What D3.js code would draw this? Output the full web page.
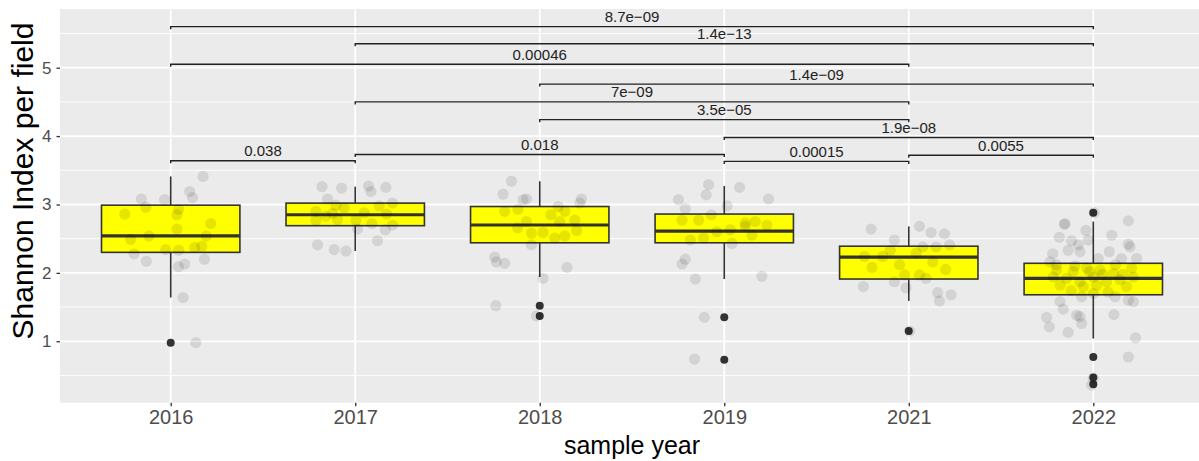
<!DOCTYPE html>
<html>
<head>
<meta charset="utf-8">
<script src="https://cdn.jsdelivr.net/npm/d3@7"></script>
<style>
  html, body { margin: 0; padding: 0; background: #ffffff; }
  svg { display: block; font-family: "Liberation Sans", Arial, Helvetica, sans-serif; }
</style>
</head>
<body>
<svg id="chart" width="1199" height="461"></svg>
<script>
// ---- data ----
const years = ["2016", "2017", "2018", "2019", "2021", "2022"];

// box statistics per year
const whiskerLow  = [1.64, 2.32, 1.94, 1.91, 1.59, 1.04];
const q1          = [2.30, 2.69, 2.44, 2.44, 1.91, 1.68];
const median      = [2.54, 2.85, 2.70, 2.61, 2.23, 1.92];
const q3          = [2.99, 3.02, 2.97, 2.86, 2.39, 2.14];
const whiskerHigh = [3.41, 3.26, 3.34, 3.27, 2.68, 2.75];
const outliers = [
  [0.98],
  [],
  [1.52, 1.37],
  [1.35, 0.73],
  [1.15],
  [2.88, 0.77, 0.47, 0.37]
];

// individual samples: [jitter (fraction of category step), Shannon index]
const points2016 = [
  [0.175, 3.41], [0.103, 3.19], [0.118, 3.10], [-0.159, 3.08], [-0.135, 2.96],
  [-0.033, 3.07], [0.043, 2.93], [-0.249, 2.86], [0.034, 2.85], [0.217, 2.72],
  [0.034, 2.64], [-0.118, 2.54], [-0.217, 2.49], [0.193, 2.54], [-0.027, 2.34],
  [0.043, 2.33], [0.130, 2.37], [0.168, 2.39], [-0.199, 2.28], [-0.132, 2.17],
  [0.076, 2.13], [0.042, 2.09], [0.183, 2.20], [0.067, 1.64], [0.136, 0.98]
];
const points2017 = [
  [-0.180, 3.26], [-0.074, 3.24], [0.072, 3.27], [0.166, 3.25], [0.085, 3.19],
  [-0.150, 3.08], [-0.105, 2.99], [0.130, 2.98], [0.202, 3.02], [-0.213, 2.90],
  [-0.123, 2.87], [0.049, 2.88], [-0.213, 2.77], [-0.096, 2.78], [0.004, 2.77],
  [0.012, 2.64], [0.163, 2.63], [0.202, 2.70], [-0.204, 2.41], [-0.114, 2.34],
  [-0.050, 2.32], [0.121, 2.47], [-0.160, 2.83], [0.170, 2.86], [0.090, 2.72],
  [-0.060, 2.95]
];
const points2018 = [
  [-0.153, 3.34], [-0.199, 3.15], [-0.090, 3.07], [-0.072, 3.08], [0.226, 3.08],
  [0.217, 3.02], [-0.118, 2.93], [-0.190, 2.90], [0.108, 2.75], [0.190, 2.77],
  [0.136, 2.90], [-0.072, 2.75], [-0.045, 2.58], [0.018, 2.59], [0.081, 2.51],
  [0.136, 2.54], [-0.045, 2.41], [-0.244, 2.23], [-0.235, 2.16], [-0.190, 2.14],
  [0.148, 2.08], [0.018, 1.92], [-0.238, 1.52], [-0.018, 1.37], [0.060, 2.85],
  [-0.120, 2.66], [0.200, 2.62], [0.100, 2.97]
];
const points2019 = [
  [-0.085, 3.29], [0.083, 3.25], [-0.098, 3.14], [-0.248, 3.07], [0.240, 3.08],
  [-0.211, 2.94], [0.015, 2.98], [-0.229, 2.77], [-0.139, 2.77], [0.114, 2.73],
  [0.168, 2.75], [0.231, 2.70], [-0.040, 2.60], [0.033, 2.63], [0.114, 2.68],
  [-0.184, 2.48], [-0.112, 2.51], [0.042, 2.43], [-0.211, 2.20], [-0.229, 2.13],
  [-0.157, 1.91], [0.204, 1.95], [-0.108, 1.35], [-0.161, 0.74], [-0.070, 2.85],
  [0.150, 2.55]
];
const points2021 = [
  [-0.204, 2.64], [-0.078, 2.48], [-0.240, 2.24], [-0.141, 2.24], [-0.199, 2.08],
  [-0.078, 1.87], [-0.246, 1.80], [0.058, 2.68], [0.121, 2.59], [0.193, 2.57],
  [0.221, 2.41], [0.076, 2.38], [0.148, 2.38], [0.040, 2.29], [0.130, 2.16],
  [-0.023, 1.97], [0.058, 1.97], [0.094, 1.92], [-0.015, 1.78], [0.157, 1.71],
  [0.229, 1.68], [0.166, 1.59], [0.005, 1.15], [-0.100, 2.33], [-0.050, 2.12],
  [0.200, 2.05]
];
const points2022 = [
  [0.190, 2.76], [-0.153, 2.72], [-0.184, 2.52], [-0.118, 2.47], [-0.081, 2.41],
  [-0.027, 2.48], [-0.136, 2.33], [-0.072, 2.31], [0.087, 2.31], [0.190, 2.42],
  [0.199, 2.38], [-0.235, 2.16], [0.027, 2.21], [0.153, 2.21], [0.235, 2.21],
  [-0.199, 2.04], [-0.108, 2.02], [-0.036, 2.07], [0.036, 2.04], [0.108, 1.99],
  [0.208, 2.07], [-0.217, 1.94], [-0.145, 1.92], [-0.072, 1.87], [0.000, 1.94],
  [0.072, 1.87], [0.145, 1.90], [0.217, 1.94], [-0.180, 1.82], [-0.054, 1.80],
  [0.018, 1.82], [0.118, 1.65], [0.180, 1.80], [-0.063, 1.65], [0.217, 1.58],
  [0.190, 1.60], [-0.180, 1.58], [-0.163, 1.47], [-0.253, 1.35], [-0.238, 1.21],
  [-0.090, 1.38], [-0.063, 1.26], [-0.072, 1.36], [0.112, 1.39], [-0.136, 1.13],
  [0.229, 1.05], [0.190, 0.77], [-0.009, 0.36], [0.000, 0.46], [0.005, 2.88],
  [-0.157, 2.71], [-0.200, 2.12], [0.120, 2.12], [-0.100, 2.10], [0.050, 1.98],
  [-0.020, 2.02], [0.160, 1.98], [-0.120, 1.74], [0.080, 1.72], [-0.220, 2.28],
  [0.100, 2.55], [-0.040, 2.62], [0.000, 1.70]
];
const pointsByYear = [points2016, points2017, points2018, points2019, points2021, points2022];

// pairwise comparisons
const cmpFrom   = ["2016", "2017", "2016", "2018", "2017", "2018", "2019", "2016", "2017", "2019", "2021"];
const cmpTo     = ["2022", "2022", "2021", "2022", "2021", "2021", "2022", "2017", "2019", "2021", "2022"];
const cmpPvalue = ["8.7e\u221209", "1.4e\u221213", "0.00046", "1.4e\u221209", "7e\u221209", "3.5e\u221205",
                   "1.9e\u221208", "0.038", "0.018", "0.00015", "0.0055"];
const cmpHeight = [5.60, 5.35, 5.05, 4.76, 4.50, 4.24, 3.98, 3.64, 3.73, 3.63, 3.72];

const yTicks = [1, 2, 3, 4, 5];
const yMinor = [0.5, 1.5, 2.5, 3.5, 4.5, 5.5];

// ---- layout ----
const svg = d3.select("#chart");
const panel = { left: 60, right: 1204, top: 9, bottom: 402.7 };

const x = d3.scalePoint().domain(years).range([panel.left, panel.right]).padding(0.6);
const y = d3.scaleLinear().domain([0.102, 5.858]).range([panel.bottom, panel.top]);
const step = x.step();
const boxW = step * 0.75;

// panel background
svg.append("rect")
  .attr("x", panel.left).attr("y", panel.top)
  .attr("width", panel.right - panel.left).attr("height", panel.bottom - panel.top)
  .attr("fill", "#EBEBEB");

// grid
const grid = svg.append("g");
grid.selectAll("line.minor").data(yMinor).join("line")
  .attr("x1", panel.left).attr("x2", panel.right)
  .attr("y1", d => y(d)).attr("y2", d => y(d))
  .attr("stroke", "#ffffff").attr("stroke-width", 0.9);
grid.selectAll("line.major").data(yTicks).join("line")
  .attr("x1", panel.left).attr("x2", panel.right)
  .attr("y1", d => y(d)).attr("y2", d => y(d))
  .attr("stroke", "#ffffff").attr("stroke-width", 1.8);
grid.selectAll("line.vmajor").data(years).join("line")
  .attr("x1", d => x(d)).attr("x2", d => x(d))
  .attr("y1", panel.top).attr("y2", panel.bottom)
  .attr("stroke", "#ffffff").attr("stroke-width", 1.8);

// axes
const yAxis = svg.append("g")
  .attr("transform", `translate(${panel.left},0)`)
  .call(d3.axisLeft(y).tickValues(yTicks).tickSize(3.5).tickPadding(5).tickFormat(d3.format("d")));
const xAxis = svg.append("g")
  .attr("transform", `translate(0,${panel.bottom})`)
  .call(d3.axisBottom(x).tickSize(3.5).tickPadding(4));
[yAxis, xAxis].forEach(g => {
  g.select(".domain").remove();
  g.selectAll(".tick line").attr("stroke", "#333333").attr("stroke-width", 1.3);
  g.selectAll(".tick text").attr("fill", "#4D4D4D").attr("font-family", "Liberation Sans, Arial, sans-serif");
});
yAxis.selectAll(".tick text").attr("font-size", 17);
xAxis.selectAll(".tick text").attr("font-size", 20);

// boxplots
const boxes = svg.append("g");
years.forEach((yr, i) => {
  const cx = x(yr);
  const g = boxes.append("g");
  g.append("line")
    .attr("x1", cx).attr("x2", cx)
    .attr("y1", y(q3[i])).attr("y2", y(whiskerHigh[i]))
    .attr("stroke", "#333333").attr("stroke-width", 1.6);
  g.append("line")
    .attr("x1", cx).attr("x2", cx)
    .attr("y1", y(q1[i])).attr("y2", y(whiskerLow[i]))
    .attr("stroke", "#333333").attr("stroke-width", 1.6);
  g.append("rect")
    .attr("x", cx - boxW / 2).attr("width", boxW)
    .attr("y", y(q3[i])).attr("height", y(q1[i]) - y(q3[i]))
    .attr("fill", "#FFFF00").attr("stroke", "#333333").attr("stroke-width", 1.6);
  g.append("line")
    .attr("x1", cx - boxW / 2).attr("x2", cx + boxW / 2)
    .attr("y1", y(median[i])).attr("y2", y(median[i]))
    .attr("stroke", "#333333").attr("stroke-width", 3.2);
  g.selectAll("circle").data(outliers[i]).join("circle")
    .attr("cx", cx).attr("cy", d => y(d)).attr("r", 4)
    .attr("fill", "#333333");
});

// jittered samples
const jit = svg.append("g");
years.forEach((yr, i) => {
  jit.append("g").selectAll("circle").data(pointsByYear[i]).join("circle")
    .attr("cx", d => x(yr) + d[0] * step)
    .attr("cy", d => y(d[1]))
    .attr("r", 5.6)
    .attr("fill", "#000000")
    .attr("fill-opacity", 0.1);
});

// significance brackets
const brackets = svg.append("g");
const tip = 2.5;
cmpFrom.forEach((a, i) => {
  const x1 = x(a), x2 = x(cmpTo[i]), yy = y(cmpHeight[i]);
  brackets.append("path")
    .attr("d", `M${x1},${yy + tip}V${yy}H${x2}V${yy + tip}`)
    .attr("fill", "none").attr("stroke", "#222222").attr("stroke-width", 1.4);
  brackets.append("text")
    .attr("x", (x1 + x2) / 2).attr("y", yy - 4.5)
    .attr("text-anchor", "middle")
    .attr("font-size", 15).attr("fill", "#222222")
    .text(cmpPvalue[i]);
});

// axis titles
svg.append("text")
  .attr("x", (panel.left + panel.right) / 2).attr("y", 454)
  .attr("text-anchor", "middle").attr("font-size", 25).attr("fill", "#000000")
  .text("sample year");
svg.append("text")
  .attr("transform", `translate(33,181) rotate(-90)`)
  .attr("text-anchor", "middle").attr("font-size", 30).attr("fill", "#000000")
  .text("Shannon Index per field");
</script>
</body>
</html>
